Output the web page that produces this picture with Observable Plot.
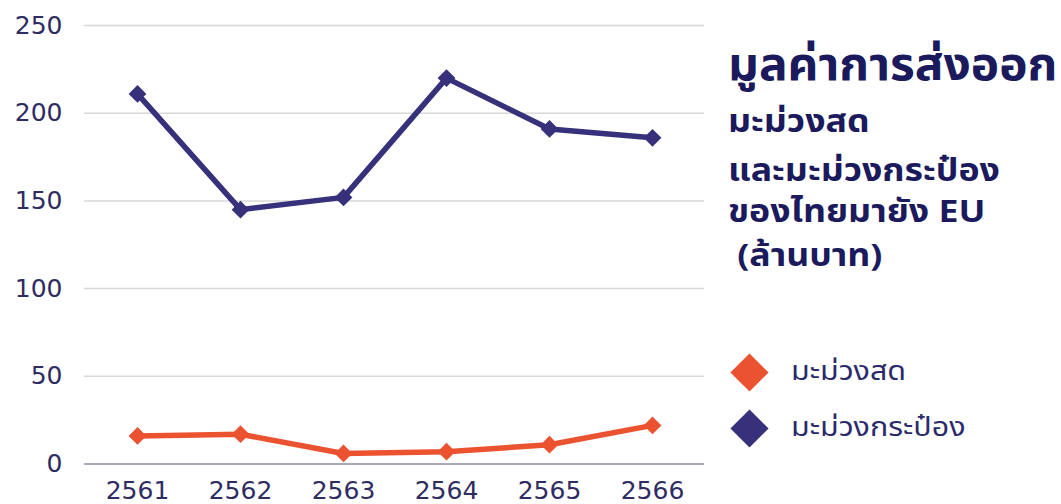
<!DOCTYPE html>
<html>
<head>
<meta charset="utf-8">
<script src="https://cdn.jsdelivr.net/npm/d3@7"></script>
<script src="https://cdn.jsdelivr.net/npm/@observablehq/plot@0.6"></script>
<style>
  html, body { margin: 0; padding: 0; background: #fff; }
  #wrap { position: relative; width: 1061px; height: 504px; overflow: hidden; }
  .thai { font-family: "Noto Sans Thai", "Noto Sans", "DejaVu Sans", sans-serif; }
  .tl { position: absolute; left: 728px; color: #1b1a5c; font-weight: 700; white-space: nowrap;
        transform-origin: left center; }
  .t1 { font-size: 46px; line-height: 58px; top: 37px; transform: scaleX(1.04); }
  .t2 { font-size: 31px; line-height: 40px; transform: scaleX(1.15); }
  #legend { position: absolute; left: 730px; top: 344px; color: #2b2a6b; font-size: 26px; }
  .item { display: flex; align-items: center; height: 56px; }
  .sw { width: 27px; height: 27px; transform: rotate(45deg); margin: 0 28px 0 6px; flex: none; }
  .lt { display: inline-block; white-space: nowrap; transform: scaleX(1.17); transform-origin: left center; }
</style>
</head>
<body>
<div id="wrap">
  <div id="chart"></div>
  <div class="tl t1 thai">มูลค่าการส่งออก</div>
  <div class="tl t2 thai" style="top:103px">มะม่วงสด</div>
  <div class="tl t2 thai" style="top:152px">และมะม่วงกระป๋อง</div>
  <div class="tl t2 thai" style="top:193px">ของไทยมายัง EU</div>
  <div class="tl t2 thai" style="top:237px">&nbsp;(ล้านบาท)</div>
  <div id="legend" class="thai"></div>
</div>
<script>
const years = ["2561", "2562", "2563", "2564", "2565", "2566"];
const freshValues = [16, 17, 6, 7, 11, 22];
const cannedValues = [211, 145, 152, 220, 191, 186];
const seriesNames = ["มะม่วงสด", "มะม่วงกระป๋อง"];
const seriesColors = ["#ea5230", "#36317a"];
const yTicks = [0, 50, 100, 150, 200, 250];

const rows = [];
years.forEach((y, i) => rows.push({year: y, value: freshValues[i], series: seriesNames[0]}));
years.forEach((y, i) => rows.push({year: y, value: cannedValues[i], series: seriesNames[1]}));

const chart = Plot.plot({
  width: 1061,
  height: 504,
  marginLeft: 84,
  marginRight: 357,
  marginTop: 25,
  marginBottom: 40.5,
  style: { fontFamily: "'DejaVu Sans', sans-serif", fontSize: "25px", color: "#2e2c62", background: "#fff" },
  x: { type: "point", domain: years, padding: 0.5, label: null },
  y: { domain: [0, 250], ticks: yTicks, label: null },
  color: { domain: seriesNames, range: seriesColors },
  marks: [
    Plot.gridY(yTicks.filter(d => d > 0), { stroke: "#d8d8d8", strokeOpacity: 1, strokeWidth: 1.5 }),
    Plot.ruleY([0], { stroke: "#a9a9b8", strokeWidth: 2 }),
    Plot.axisY({ ticks: yTicks, tickSize: 0, tickPadding: 22, fill: "#2e2c62" }),
    Plot.axisX({ tickSize: 0, tickPadding: 17.5, fill: "#2e2c62" }),
    Plot.line(rows, { x: "year", y: "value", z: "series", stroke: "series", strokeWidth: 5.5 }),
    Plot.dot(rows, { x: "year", y: "value", fill: "series", symbol: "diamond2", r: 8 })
  ]
});
document.getElementById("chart").appendChild(chart);

const legend = document.getElementById("legend");
seriesNames.forEach((name, i) => {
  const item = document.createElement("div");
  item.className = "item";
  const sw = document.createElement("div");
  sw.className = "sw";
  sw.style.background = seriesColors[i];
  const label = document.createElement("span");
  label.className = "lt";
  label.textContent = name;
  item.appendChild(sw);
  item.appendChild(label);
  legend.appendChild(item);
});
</script>
</body>
</html>
